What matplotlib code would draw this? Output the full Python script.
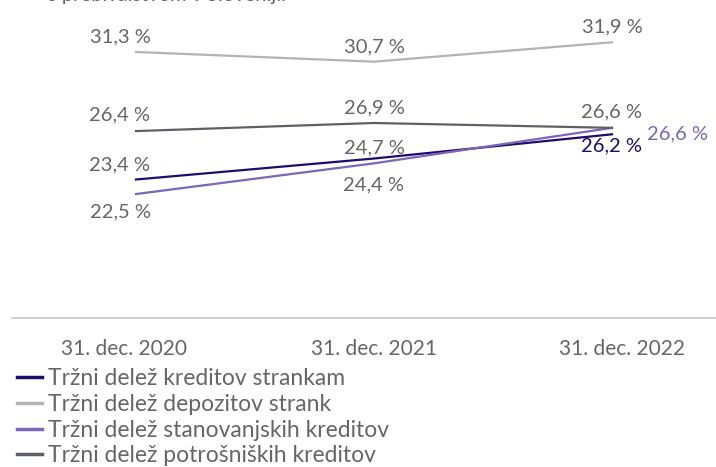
import matplotlib
matplotlib.use("Agg")
import matplotlib.pyplot as plt
from matplotlib.transforms import ScaledTranslation

categories = ["31. dec. 2020", "31. dec. 2021", "31. dec. 2022"]
loans = [23.4, 24.7, 26.2]
deposits = [31.3, 30.7, 31.9]
housing = [22.5, 24.4, 26.6]
consumer = [26.4, 26.9, 26.6]
series_names = ["Tržni delež kreditov strankam", "Tržni delež depozitov strank",
                "Tržni delež stanovanjskih kreditov", "Tržni delež potrošniških kreditov"]

plt.rcParams['font.family'] = ['Lato', 'DejaVu Sans']
W, H = 716, 467
fig = plt.figure(figsize=(W/100, H/100), dpi=100)
ax = fig.add_axes([12/W, (H-318)/H, 1-12/W, 318/H])

c_loans = "#1e0b6e"
c_dep = "#b3b3b3"
c_house = "#7b66b8"
c_cons = "#5d6166"
txt = "#666666"

x = list(range(len(categories)))
l1, = ax.plot(x, loans, color=c_loans, lw=1.6)
l2, = ax.plot(x, deposits, color=c_dep, lw=1.6)
l3, = ax.plot(x, housing, color=c_house, lw=1.6)
l4, = ax.plot(x, consumer, color=c_cons, lw=1.6)

ax.set_xlim(-0.521, 2.437)
ax.set_ylim(14.82, 34.52)

fs = 14.5
def lab(xi, val, dx, dy, color=txt, ha='center'):
    ax.annotate(f"{val:.1f} %".replace('.', ','), (xi, val), xytext=(dx, dy),
                textcoords='offset pixels', ha=ha, va='center', color=color, fontsize=fs)

# deposits
lab(0, deposits[0], -16, 15); lab(1, deposits[1], 0, 15); lab(2, deposits[2], 0, 15)
# consumer
lab(0, consumer[0], -16, 16); lab(1, consumer[1], 0, 15); lab(2, consumer[2], 0, 16)
# loans
lab(0, loans[0], -16, 15); lab(1, loans[1], 0, 11); lab(2, loans[2], 0, -12, color=c_loans)
# housing
lab(0, housing[0], -15, -18); lab(1, housing[1], 0, -22); lab(2, housing[2], 35, -6, color=c_house, ha='left')

ax.set_xticks(x)
ax.set_xticklabels(categories, fontsize=15, color=txt)
ax.tick_params(axis='x', length=0, pad=15)
shifts = [-12, 0, 10]
for t, s in zip(ax.get_xticklabels(), shifts):
    t.set_transform(t.get_transform() + ScaledTranslation(s/100, 0, fig.dpi_scale_trans))
ax.set_yticks([])
for s in ['top', 'left', 'right']:
    ax.spines[s].set_visible(False)
ax.spines['bottom'].set_color("#c8c8c8")
ax.spines['bottom'].set_linewidth(1.2)

fig.text(48/W, 1 - 1/H, "s prebivalstvom v Sloveniji.", fontsize=fs, color=txt,
         ha='left', va='baseline')

leg = fig.legend([l1, l2, l3, l4], series_names, loc='upper left',
                 bbox_to_anchor=(17/W, 1 - 368/H), frameon=False, fontsize=16.5,
                 handlelength=1.09, handletextpad=0.26, labelspacing=0.21,
                 borderaxespad=0, borderpad=0)
for t in leg.get_texts():
    t.set_color(txt)
for h in leg.legend_handles:
    h.set_linewidth(2.5)

fig.savefig("out.png", dpi=100)
